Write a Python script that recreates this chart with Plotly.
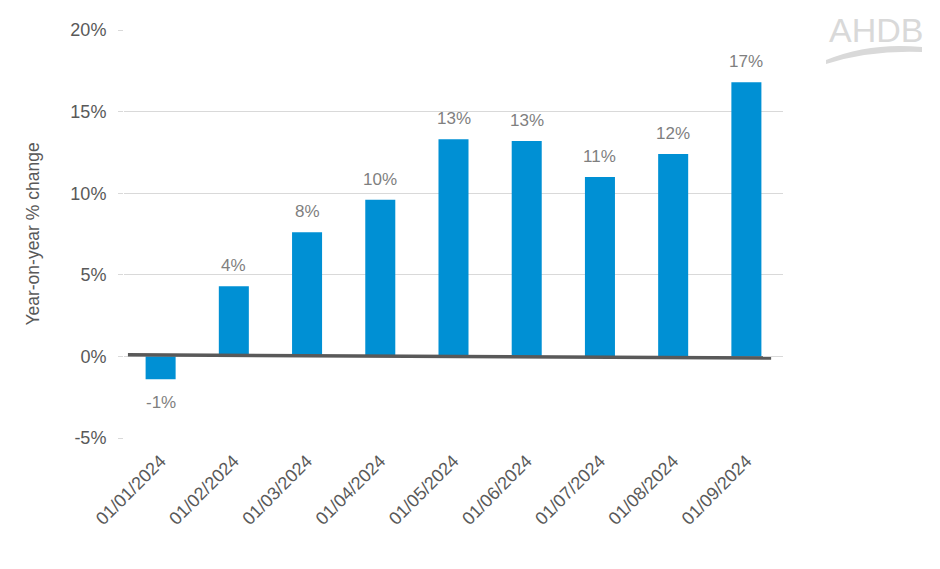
import plotly.graph_objects as go

categories = ["01/01/2024", "01/02/2024", "01/03/2024", "01/04/2024", "01/05/2024",
              "01/06/2024", "01/07/2024", "01/08/2024", "01/09/2024"]
yoy_change = [-1.4, 4.3, 7.6, 9.6, 13.3, 13.2, 11.0, 12.4, 16.8]
zero_line_x = [0.006, 0.982]
zero_line_y = [0.1, -0.1]
y_ticks = [-5, 0, 5, 10, 15, 20]
y_tick_labels = [f"{v}%" for v in y_ticks]

labels = [f"{round(v):.0f}%" for v in yoy_change]

fig = go.Figure()
fig.add_trace(go.Bar(
    x=categories, y=yoy_change, width=0.41,
    marker=dict(color="#0090D4", line=dict(width=0)),
    hoverinfo="skip",
))
fig.add_trace(go.Scatter(
    x=zero_line_x, y=zero_line_y, xaxis="x2", mode="lines",
    line=dict(color="#595959", width=3.5), hoverinfo="skip",
))

annotations = []
for c, v, t in zip(categories, yoy_change, labels):
    annotations.append(dict(
        x=c, y=v, text=t, showarrow=False,
        yanchor="bottom" if v >= 0 else "top",
        yshift=9 if v >= 0 else -12,
        font=dict(family="Liberation Sans, Arial", size=17, color="#7F7F7F"),
    ))
annotations.append(dict(
    text="AHDB", xref="paper", yref="paper", x=1.2155, y=1.0,
    xanchor="right", yanchor="middle", showarrow=False,
    font=dict(family="Liberation Sans, Arial", size=34, color="#D9D9D9"),
))

fig.update_layout(
    width=940, height=569,
    margin=dict(l=124, r=157, t=30, b=131),
    paper_bgcolor="white", plot_bgcolor="white",
    showlegend=False,
    font=dict(family="Liberation Sans, Arial", color="#595959"),
    xaxis=dict(
        type="category", tickangle=-45, showgrid=False, zeroline=False,
        showline=False, ticks="", ticklabelstandoff=8,
        tickfont=dict(size=18, color="#595959"),
    ),
    xaxis2=dict(overlaying="x", range=[0, 1], visible=False),
    yaxis=dict(
        range=[-5, 20], tickvals=y_ticks, ticktext=y_tick_labels,
        showgrid=True, gridcolor="#D9D9D9", gridwidth=1,
        zeroline=False, showline=False,
        ticks="outside", ticklen=5, tickcolor="#D9D9D9",
        ticklabelstandoff=8,
        tickfont=dict(size=18, color="#595959"),
        title=dict(text="Year-on-year % change", font=dict(size=17.5, color="#595959"), standoff=26),
    ),
    annotations=annotations,
    shapes=[dict(
        type="path", xref="paper", yref="paper", layer="above",
        path="M 1.0653,0.9265 Q 1.1320,0.9706 1.2109,0.9583 L 1.2109,0.9461 Q 1.1320,0.9510 1.0653,0.9167 Z",
        fillcolor="#D9D9D9", line=dict(width=0),
    )],
)

fig.write_html("out.html")
